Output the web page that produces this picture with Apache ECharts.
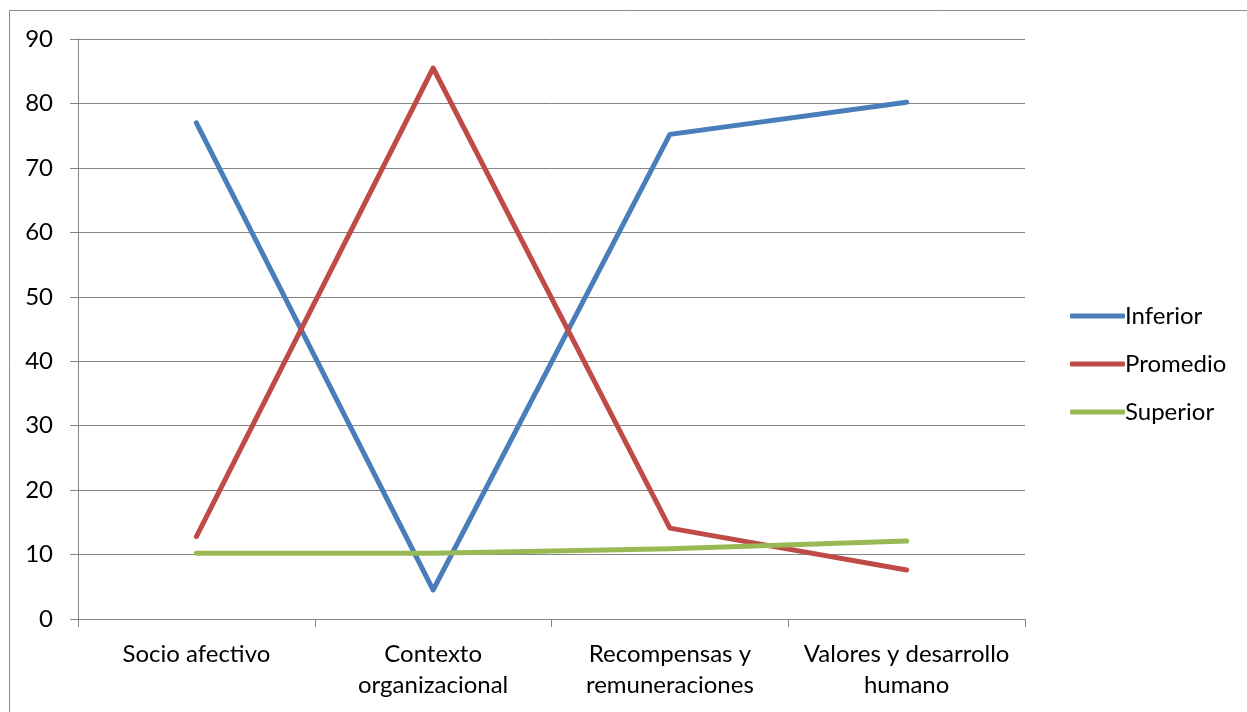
<!DOCTYPE html>
<html>
<head>
<meta charset="utf-8">
<script src="https://cdn.jsdelivr.net/npm/echarts@6/dist/echarts.min.js"></script>
<style>
  html, body { margin: 0; padding: 0; background: #fff; }
  #chart { width: 1247px; height: 712px; }
</style>
</head>
<body>
<div id="chart"></div>
<script>
// Dimensiones del clima organizacional
const categories = [
  'Socio afectivo',
  'Contexto\norganizacional',
  'Recompensas y\nremuneraciones',
  'Valores y desarrollo\nhumano'
];
const inferior = [77.0, 4.5, 75.2, 80.2];
const promedio = [12.8, 85.5, 14.1, 7.6];
const superior = [10.2, 10.2, 10.9, 12.1];
const yTicks = { min: 0, max: 90, interval: 10 };

const FONT = 'Lato';
const GRID_COLOR = '#868686';

function lineSeries(name, data, color) {
  return {
    name: name,
    type: 'line',
    data: data,
    symbol: 'none',
    lineStyle: { width: 5, color: color, cap: 'round', join: 'round' },
    itemStyle: { color: color },
    emphasis: { disabled: true }
  };
}

const chart = echarts.init(document.getElementById('chart'), null, { renderer: 'canvas' });
chart.setOption({
  animation: false,
  backgroundColor: '#ffffff',
  textStyle: { fontFamily: FONT },
  graphic: [{
    type: 'rect',
    shape: { x: 9.5, y: 10.5, width: 1300, height: 800 },
    style: { fill: 'none', stroke: '#8c8c8c', lineWidth: 1 },
    silent: true
  }],
  grid: { left: 78, right: 222, top: 39, bottom: 93, containLabel: false },
  legend: {
    orient: 'vertical',
    left: 1065,
    top: 297,
    itemWidth: 55,
    itemHeight: 5,
    itemGap: 20,
    icon: 'roundRect',
    textStyle: { fontFamily: FONT, fontSize: 24, lineHeight: 28, color: '#000', padding: [0, 0, 0, -5] },
    data: ['Inferior', 'Promedio', 'Superior']
  },
  xAxis: {
    type: 'category',
    data: categories,
    boundaryGap: true,
    axisLine: { lineStyle: { color: GRID_COLOR, width: 1 } },
    axisTick: { show: true, length: 8, lineStyle: { color: GRID_COLOR } },
    axisLabel: {
      interval: 0,
      color: '#000',
      fontFamily: FONT,
      fontSize: 24,
      lineHeight: 31,
      margin: 20,
      align: 'center'
    },
    splitLine: { show: false }
  },
  yAxis: {
    type: 'value',
    min: yTicks.min,
    max: yTicks.max,
    interval: yTicks.interval,
    axisLine: { show: true, lineStyle: { color: GRID_COLOR, width: 1 } },
    axisTick: { show: true, length: 8, lineStyle: { color: GRID_COLOR } },
    axisLabel: { color: '#000', fontFamily: FONT, fontSize: 24, margin: 25 },
    splitLine: { show: true, lineStyle: { color: GRID_COLOR, width: 1 } }
  },
  series: [
    lineSeries('Inferior', inferior, '#4A7EBB'),
    lineSeries('Promedio', promedio, '#BE4B48'),
    lineSeries('Superior', superior, '#98B954')
  ]
});
</script>
</body>
</html>
